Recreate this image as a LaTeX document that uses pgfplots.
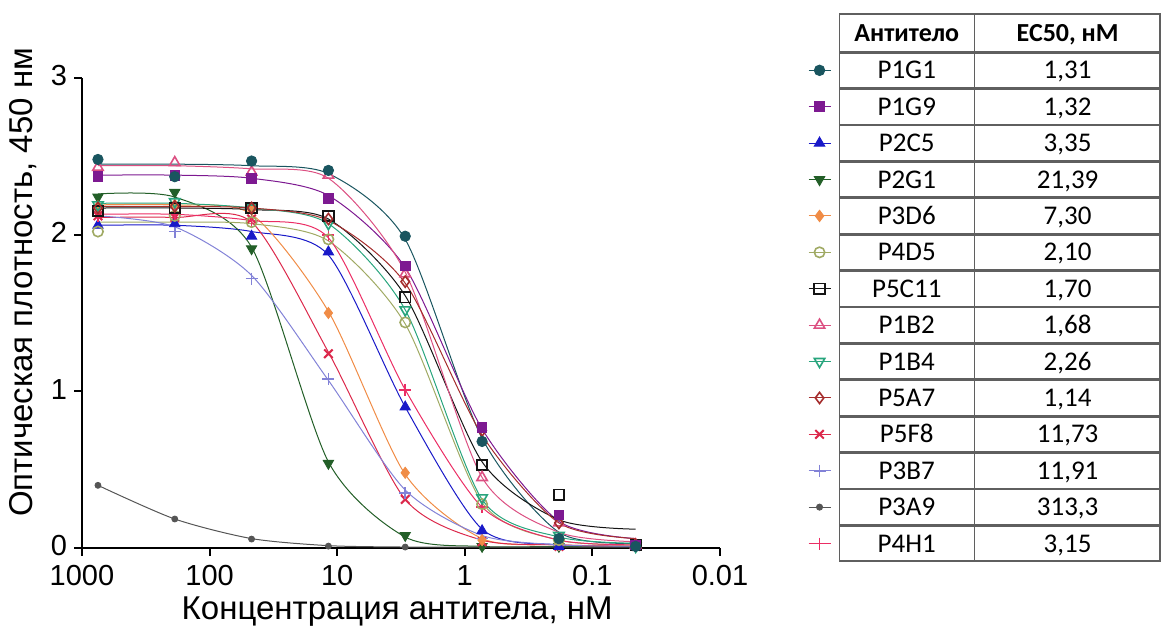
\documentclass[border=0pt]{standalone}
\usepackage{pgfplots}
\usepackage{pgfplotstable}
\pgfplotsset{compat=1.18}
\usepackage{fontspec}
\setmainfont{Liberation Sans}
\newfontfamily\calibri{Carlito}

\definecolor{cP1G1}{RGB}{25,85,95}
\definecolor{cP1G9}{RGB}{125,25,145}
\definecolor{cP2C5}{RGB}{25,25,200}
\definecolor{cP2G1}{RGB}{35,95,40}
\definecolor{cP3D6}{RGB}{240,140,70}
\definecolor{cP4D5}{RGB}{160,170,100}
\definecolor{cP5C11}{RGB}{20,20,20}
\definecolor{cP1B2}{RGB}{220,80,130}
\definecolor{cP1B4}{RGB}{40,165,125}
\definecolor{cP5A7}{RGB}{165,45,45}
\definecolor{cP5F8}{RGB}{220,40,75}
\definecolor{cP3B7}{RGB}{130,130,215}
\definecolor{cP3A9}{RGB}{85,85,85}
\definecolor{cP4H1}{RGB}{235,45,100}
\definecolor{tabline}{RGB}{95,95,95}

% measured points
\pgfplotstableread{
x       P1G1 P1G9 P2C5 P2G1 P3D6 P4D5 P5C11 P1B2 P1B4 P5A7 P5F8 P3B7 P3A9  P4H1
750     2.48 2.37 2.06 2.24 2.18 2.02 2.15  2.43 2.19 2.17 2.12 2.16 0.40  2.12
187.5   2.37 2.38 2.07 2.27 2.19 2.12 2.17  2.46 2.21 2.18 2.11 2.02 0.185 2.13
46.875  2.47 2.36 1.99 1.91 2.16 2.08 2.17  2.40 2.17 2.17 2.10 1.72 0.057 2.09
11.72   2.41 2.23 1.89 0.54 1.50 1.97 2.12  2.38 2.07 2.10 1.24 1.08 0.012 2.00
2.93    1.99 1.80 0.90 0.08 0.48 1.44 1.60  1.75 1.52 1.70 0.31 0.35 0.006 1.01
0.732   0.68 0.77 0.11 0.01 0.05 0.28 0.53  0.45 0.32 0.75 0.04 0.06 0.005 0.26
0.183   0.06 0.21 0.01 0.01 0.02 0.05 0.34  0.16 0.08 0.16 0.01 0.02 0.005 0.05
0.0458  0.01 0.02 0.01 0.01 0.01 0.02 0.02  0.02 0.01 0.02 0.01 0.01 0.005 0.01
}\data

% fitted curves at the same concentrations
\pgfplotstableread{
x       P1G1 P1G9 P2C5 P2G1 P3D6 P4D5 P5C11 P1B2 P1B4 P5A7 P5F8 P3B7 P3A9  P4H1
750     2.45 2.38 2.06 2.26 2.19 2.08 2.17  2.44 2.20 2.18 2.11 2.12 0.40  2.13
187.5   2.45 2.38 2.06 2.24 2.19 2.08 2.17  2.44 2.20 2.18 2.11 2.05 0.185 2.13
46.875  2.44 2.36 2.02 1.92 2.13 2.07 2.16  2.42 2.17 2.17 2.08 1.74 0.06  2.09
11.72   2.39 2.25 1.87 0.55 1.51 1.96 2.10  2.36 2.07 2.09 1.25 1.07 0.015 1.98
2.93    1.97 1.79 0.90 0.07 0.47 1.43 1.61  1.76 1.52 1.69 0.31 0.37 0.006 1.01
0.732   0.70 0.76 0.12 0.01 0.06 0.29 0.55  0.45 0.31 0.72 0.05 0.08 0.005 0.26
0.183   0.10 0.17 0.02 0.01 0.02 0.05 0.18  0.10 0.07 0.16 0.02 0.02 0.005 0.05
0.0458  0.03 0.06 0.01 0.01 0.01 0.02 0.12  0.04 0.03 0.06 0.01 0.01 0.005 0.02
}\fit

\newcommand{\row}[2]{\makebox[67pt]{#1}{\color{tabline}\vrule height 13.05pt depth 4.45pt width 0.7pt}\makebox[92.5pt]{#2}}

\begin{document}
\begin{tikzpicture}
\begin{axis}[
  at={(41pt,43.5pt)}, anchor=south west,
  scale only axis, width=319pt, height=235pt,
  xmode=log, x dir=reverse,
  xmin=0.01, xmax=1000, ymin=0, ymax=3,
  axis x line=bottom, axis y line=left,
  axis line style={-, line width=1pt, black},
  every tick/.style={line width=1pt, black},
  tick align=outside, major tick length=4pt,
  xtick={1000,100,10,1,0.1,0.01},
  xticklabels={1000,100,10,1,0.1,0.01},
  ytick={0,1,2,3},
  xminorticks=false, yminorticks=false,
  /pgf/number format/assume math mode=true,
  tick label style={font=\fontsize{14.5}{16}\selectfont},
  xticklabel style={yshift=-1pt},
  yticklabel style={yshift=1pt},
  xlabel={Концентрация антитела, нМ},
  ylabel={Оптическая плотность, 450 нм},
  label style={font=\fontsize{16.5}{19}\selectfont},
  xlabel style={at={(axis description cs:0.494,-0.136)}, anchor=center},
  ylabel style={at={(axis description cs:-0.0925,0.565)}, anchor=center},
  clip=false,
  legend image code/.code={\draw[mark repeat=2,mark phase=2,#1] plot coordinates {(0pt,0pt) (5.5pt,0pt) (11pt,0pt)};},
  legend style={at={(axis description cs:1.138,1.138)}, anchor=north west,
    draw=none, fill=none, inner sep=0pt, outer sep=0pt,
    column sep=4pt, row sep=0pt,
    nodes={inner sep=0pt, outer sep=0pt, draw=tabline, line width=0.7pt,
      text height=13.05pt, text depth=4.45pt, font=\calibri\fontsize{13.5}{15}\selectfont}},
  curve/.style={line width=0.5pt, smooth, tension=0.45, no marks, forget plot},
  pts/.style={only marks, forget plot},
  P1G1/.style={cP1G1, mark=*, mark size=2.6pt},
  P1G9/.style={cP1G9, mark=square*, mark size=2.4pt},
  P2C5/.style={cP2C5, mark=triangle*, mark size=3pt},
  P2G1/.style={cP2G1, mark=triangle*, mark size=3pt, mark options={rotate=180}},
  P3D6/.style={cP3D6, mark=diamond*, mark size=2.8pt},
  P4D5/.style={cP4D5, mark=o, mark size=2.6pt, mark options={fill=white, line width=0.8pt}},
  P5C11/.style={cP5C11, mark=square, mark size=2.6pt, mark options={fill=white, line width=0.9pt}},
  P1B2/.style={cP1B2, mark=triangle, mark size=3pt, mark options={fill=white, line width=0.8pt}},
  P1B4/.style={cP1B4, mark=triangle, mark size=3pt, mark options={fill=white, line width=0.8pt, rotate=180}},
  P5A7/.style={cP5A7, mark=diamond, mark size=2.8pt, mark options={fill=white, line width=0.8pt}},
  P5F8/.style={cP5F8, mark=x, mark size=3pt, mark options={line width=1pt}},
  P3B7/.style={cP3B7, mark=+, mark size=3pt, mark options={line width=0.8pt}},
  P3A9/.style={cP3A9, mark=*, mark size=1.5pt},
  P4H1/.style={draw=cP4H1, color=cP4H1, mark=+, mark size=3pt, mark options={draw=cP4H1, line width=0.9pt}},
]
% legend (table at the right)
\addlegendimage{empty legend}
\addlegendentry[text height=13.8pt, text depth=5pt, font=\calibri\bfseries\fontsize{13}{15}\selectfont]{\makebox[67pt]{Антитело}{\color{tabline}\vrule height 13.8pt depth 5pt width 0.7pt}\makebox[92.5pt]{EC50, нМ}}
\addlegendimage{P1G1, line width=0.5pt}\addlegendentry{\row{P1G1}{1,31}}
\addlegendimage{P1G9, line width=0.5pt}\addlegendentry{\row{P1G9}{1,32}}
\addlegendimage{P2C5, line width=0.5pt}\addlegendentry{\row{P2C5}{3,35}}
\addlegendimage{P2G1, line width=0.5pt}\addlegendentry{\row{P2G1}{21,39}}
\addlegendimage{P3D6, line width=0.5pt}\addlegendentry{\row{P3D6}{7,30}}
\addlegendimage{P4D5, line width=0.5pt}\addlegendentry{\row{P4D5}{2,10}}
\addlegendimage{P5C11, line width=0.5pt}\addlegendentry{\row{P5C11}{1,70}}
\addlegendimage{P1B2, line width=0.5pt}\addlegendentry{\row{P1B2}{1,68}}
\addlegendimage{P1B4, line width=0.5pt}\addlegendentry{\row{P1B4}{2,26}}
\addlegendimage{P5A7, line width=0.5pt}\addlegendentry{\row{P5A7}{1,14}}
\addlegendimage{P5F8, line width=0.5pt}\addlegendentry{\row{P5F8}{11,73}}
\addlegendimage{P3B7, line width=0.5pt}\addlegendentry{\row{P3B7}{11,91}}
\addlegendimage{P3A9, line width=0.5pt}\addlegendentry{\row{P3A9}{313,3}}
\addlegendimage{P4H1, line width=0.5pt}\addlegendentry{\row{P4H1}{3,15}}

% fitted curves
\pgfplotsinvokeforeach{P1G1,P1G9,P2C5,P2G1,P3D6,P4D5,P5C11,P1B2,P1B4,P5A7,P5F8,P3B7,P3A9,P4H1}{
  \addplot[#1, curve] table[x=x, y=#1] {\fit};
}
% measured points
\pgfplotsinvokeforeach{P3A9,P2G1,P5F8,P3B7,P3D6,P2C5,P4H1,P4D5,P1B4,P5C11,P1B2,P5A7,P1G9,P1G1}{
  \addplot[#1, pts] table[x=x, y=#1] {\data};
}
\end{axis}
\pgfresetboundingbox
\useasboundingbox (0,0) rectangle (581pt,317.5pt);
\end{tikzpicture}
\end{document}
